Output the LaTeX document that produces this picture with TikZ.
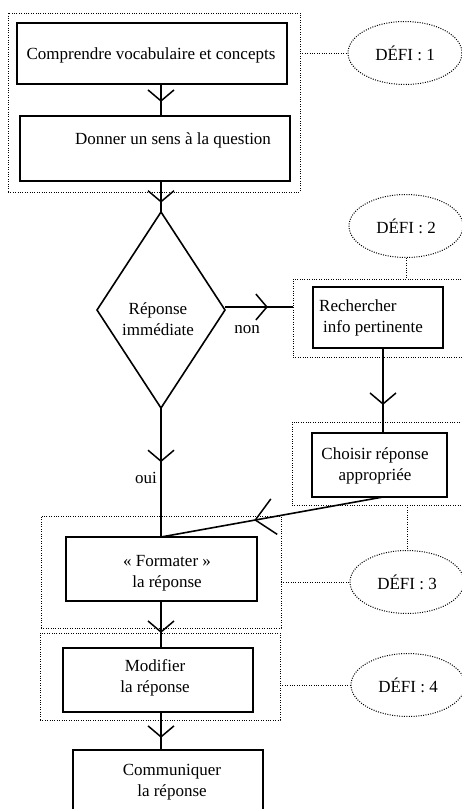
\documentclass[tikz,border=0pt]{standalone}
\usepackage{fontspec}
\setmainfont{Liberation Serif}
\usetikzlibrary{shapes.geometric,arrows.meta,decorations.markings}
\begin{document}
\begin{tikzpicture}[x=1pt,y=-1pt,
  stepbox/.style={draw, line width=1.7pt, rectangle, inner sep=0pt, outer sep=0pt},
  groupbox/.style={draw, line width=1pt, dash pattern=on 1pt off 1.4pt, rectangle, inner sep=0pt, outer sep=0pt},
  defi/.style={draw, line width=1pt, dash pattern=on 1pt off 1.4pt, ellipse, inner sep=0pt,
    minimum width=114pt, minimum height=63pt, font=\fontsize{17}{21}\selectfont},
  txt/.style={align=center, inner sep=0pt, font=\fontsize{17}{21}\selectfont},
  link/.style={line width=1pt, dash pattern=on 1pt off 1.4pt},
  flow/.style={line width=1.6pt, postaction={decorate}, decoration={markings,
    mark=at position #1 with {\arrow{Straight Barb[length=11pt,width=26pt,line width=1.5pt]}}}},
  bigflow/.style={line width=1.6pt, postaction={decorate}, decoration={markings,
    mark=at position #1 with {\arrow{Straight Barb[length=19pt,width=36pt,line width=1.5pt]}}}}
]
\useasboundingbox (0,0) rectangle (462,809);
\clip (0,0) rectangle (462,809);

% groups of steps (dotted frames)
\node[groupbox, minimum width=292pt, minimum height=179pt] (G1) at (154,102.5) {};
\node[groupbox, minimum width=182pt, minimum height=78pt]  (G2) at (384,318) {};
\node[groupbox, minimum width=183pt, minimum height=83pt]  (G3) at (383.5,463.5) {};
\node[groupbox, minimum width=240pt, minimum height=112pt] (G4) at (161,572) {};
\node[groupbox, minimum width=240pt, minimum height=87pt]  (G5) at (160,676.5) {};

% step boxes
\node[stepbox, minimum width=270pt, minimum height=61pt] (B1) at (152,53.5) {};
\node[stepbox, minimum width=270pt, minimum height=65pt] (B2) at (155,148.5) {};
\node[draw, line width=1.6pt, diamond, inner sep=0pt, outer sep=0pt,
      minimum width=128pt, minimum height=196pt] (D) at (161,310) {};
\node[stepbox, minimum width=130pt, minimum height=61pt] (Rech) at (378,317.5) {};
\node[stepbox, minimum width=135pt, minimum height=64pt] (Ch) at (379.5,465) {};
\node[stepbox, minimum width=191pt, minimum height=64pt] (Form) at (161.5,569) {};
\node[stepbox, minimum width=190pt, minimum height=64pt] (Mod) at (158,680) {};
\node[stepbox, minimum width=190pt, minimum height=80pt] (Comm) at (168,790) {};

% texts of the steps
\node[txt] (t1) at (151,55) {Comprendre vocabulaire et concepts};
\node[txt] (t2) at (173,140) {Donner un sens à la question};
\node[txt] (tD) at (158,319) {Réponse\\immédiate};
\node[txt, align=left, anchor=west] (tR) at (319,318) {Rechercher\\\hspace*{4pt}info pertinente};
\node[txt] (tC) at (375,466) {Choisir réponse\\appropriée};
\node[txt] (tF) at (167,573) {«~Formater~»\\la réponse};
\node[txt] (tM) at (155,678) {Modifier\\la réponse};
\node[txt] (tCo) at (172,782) {Communiquer\\la réponse};
\node[txt] (non) at (247,330) {non};
\node[txt] (oui) at (146,478) {oui};

% challenges
\node[defi] (E1) at (405,53) {DÉFI : 1};
\node[defi] (E2) at (406,226) {DÉFI : 2};
\node[defi] (E3) at (407,582) {DÉFI : 3};
\node[defi] (E4) at (408,685) {DÉFI : 4};

% flow connectors
\draw[flow=0.56] (B1.south -| D.north) -- (B2.north -| D.north);
\draw[flow=0.7] (B2.south -| D.north) -- (D.north);
\draw[flow=0.63] ([yshift=3pt]D.east) -- ([yshift=3pt]D.east -| G2.west);
\draw[flow=0.42] (D.south) -- (Form.north -| D.south);
\draw[flow=0.67] ([xshift=5pt]Rech.south) -- ([xshift=3.5pt]Ch.north);
\draw[bigflow=0.58] ([xshift=3.5pt]Ch.south) -- (Form.north -| D.south);
\draw[flow=0.68] (Form.south -| D.south) -- (Mod.north -| D.south);
\draw[flow=0.68] (Mod.south -| D.south) -- (Comm.north -| D.south);

% dotted links to the challenges
\draw[link] (E1.west -| G1.east) -- (E1.west);
\draw[link] (E2.south) -- (E2.south |- G2.north);
\draw[link] (G3.south -| E3.north) -- (E3.north);
\draw[link] (E3.west -| G4.east) -- (E3.west);
\draw[link] (E4.west -| G5.east) -- (E4.west);
\end{tikzpicture}
\end{document}
